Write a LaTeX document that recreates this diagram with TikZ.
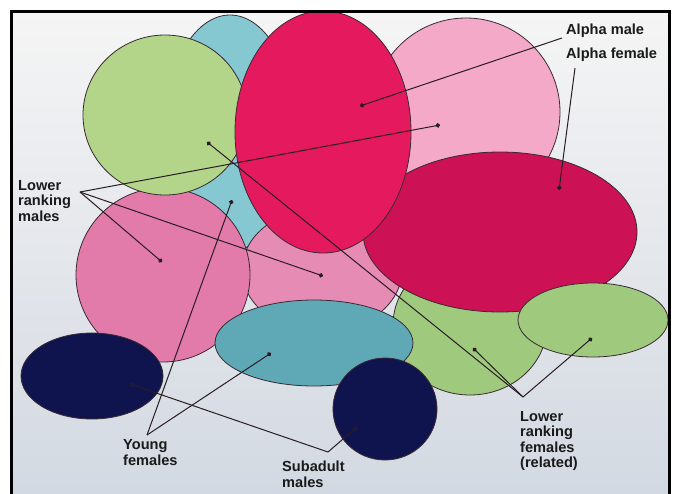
\documentclass[tikz,border=0pt]{standalone}
\usepackage{fontspec}
\setmainfont{Liberation Sans}
\usetikzlibrary{arrows.meta}
\definecolor{outl}{HTML}{3A2A32}
\definecolor{lnc}{HTML}{2A1C24}
\definecolor{txt}{HTML}{1A1A1A}
\definecolor{tealtop}{HTML}{86C8D2}
\definecolor{greenA}{HTML}{B2D58A}
\definecolor{greenB}{HTML}{9FCA7E}
\definecolor{pinklight}{HTML}{F4A9C8}
\definecolor{alphamale}{HTML}{E5195E}
\definecolor{alphafemale}{HTML}{CC1254}
\definecolor{pinkL}{HTML}{E27BAA}
\definecolor{pinkM}{HTML}{E68BB4}
\definecolor{teallow}{HTML}{5FA9B7}
\definecolor{navy}{HTML}{10144E}
\definecolor{bgtop}{HTML}{F5F5F5}
\definecolor{bgbot}{HTML}{D3D9E2}
\begin{document}
\begin{tikzpicture}[x=1pt,y=-1pt,
  blob/.style={draw=outl, line width=0.8pt},
  conn/.style={draw=lnc, line width=1pt, -{Circle[length=4.5pt]}},
  lbl/.style={font=\fontsize{14.6}{15.5}\selectfont\bfseries, text=txt, inner sep=0pt, align=left, anchor=north west}]
\useasboundingbox (0,0) rectangle (675,493);
\clip (0,0) rectangle (675,493);
\fill[white] (0,0) rectangle (675,493);
\shade[top color=bgtop, bottom color=bgbot] (11.5,11) rectangle (669.5,493);
% shapes, back to front
\draw[blob, fill=tealtop] (230,133) ellipse [x radius=66pt, y radius=118pt];
\draw[blob, fill=pinklight] (466,112) ellipse [x radius=94pt, y radius=94pt];
\draw[blob, fill=pinkM] (322,270) ellipse [x radius=80pt, y radius=62pt];
\draw[blob, fill=pinkL] (163,275) ellipse [x radius=87pt, y radius=87pt];
\draw[blob, fill=greenA] (165,115) ellipse [x radius=82pt, y radius=80pt];
\draw[blob, fill=greenB] (470,325) ellipse [x radius=77pt, y radius=70pt];
\draw[blob, fill=alphafemale] (500,232) ellipse [x radius=137pt, y radius=80pt];
\draw[blob, fill=alphamale] (323,132) ellipse [x radius=88pt, y radius=121pt];
\draw[blob, fill=greenB] (593,320) ellipse [x radius=75pt, y radius=37pt];
\draw[blob, fill=teallow] (314,343) ellipse [x radius=99pt, y radius=43pt];
\draw[blob, fill=navy] (92,376) ellipse [x radius=71pt, y radius=43pt];
\draw[blob, fill=navy] (385,409) ellipse [x radius=52pt, y radius=51pt];
% frame
\draw[line width=3pt, black] (11.5,500) -- (11.5,11) -- (669.5,11) -- (669.5,500);
% coordinates
\coordinate (amS) at (562,38);
\coordinate (dAM) at (360,106);
\coordinate (afS) at (575,68);
\coordinate (dAF) at (559,190);
\coordinate (lrmO) at (80,192);
\coordinate (dLightPink) at (440,125);
\coordinate (dPinkL) at (162,262);
\coordinate (dPinkM) at (323,276);
\coordinate (lrfO) at (523,397);
\coordinate (dGreenUL) at (207,142);
\coordinate (dGreenLM) at (473,348);
\coordinate (dGreenR) at (592,338);
\coordinate (yfO) at (147,435);
\coordinate (dTealT) at (232,200);
\coordinate (dTealL) at (271,353);
\coordinate (smO) at (328,452);
\coordinate (dNavyE) at (130,384);
\coordinate (dNavyC) at (357,427);
% connectors
\draw[conn] (amS) -- (dAM);
\draw[conn] (afS) -- (dAF);
\draw[conn] (lrmO) -- (dLightPink);
\draw[conn] (lrmO) -- (dPinkL);
\draw[conn] (lrmO) -- (dPinkM);
\draw[conn] (lrfO) -- (dGreenUL);
\draw[conn] (lrfO) -- (dGreenLM);
\draw[conn] (lrfO) -- (dGreenR);
\draw[conn] (yfO) -- (dTealT);
\draw[conn] (yfO) -- (dTealL);
\draw[conn, -{Circle[length=4.5pt, fill=navy]}] (smO) -- (dNavyE);
\draw[conn, -{Circle[length=4.5pt, fill=navy]}] (smO) -- (dNavyC);
% labels
\node[lbl, anchor=base west] (am) at (566,34) {Alpha male};
\node[lbl, anchor=base west] (af) at (566,58) {Alpha female};
\node[lbl] (lrm) at (18,180) {Lower\\ranking\\males};
\node[lbl] (yf) at (123,439.5) {Young\\females};
\node[lbl] (sm) at (282,461) {Subadult\\males};
\node[lbl] (lrf) at (520,411) {Lower\\ranking\\females\\(related)};
\end{tikzpicture}
\end{document}
